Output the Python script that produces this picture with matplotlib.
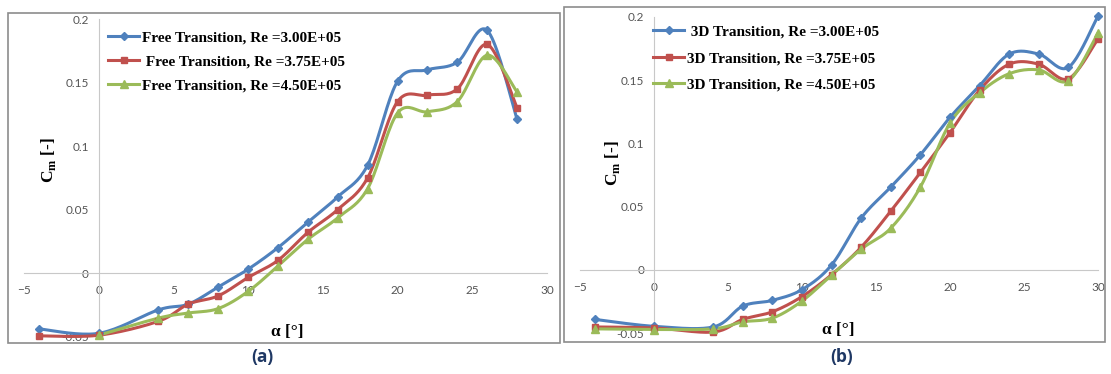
import numpy as np
import matplotlib
matplotlib.use('Agg')
import matplotlib.pyplot as plt
from matplotlib.patches import Rectangle

# ---- data ----
alpha_a = [-4, 0, 4, 6, 8, 10, 12, 14, 16, 18, 20, 22, 24, 26, 28]
free_300 = [-0.044, -0.0475, -0.029, -0.0245, -0.011, 0.003, 0.020, 0.040, 0.060, 0.085, 0.151, 0.160, 0.166, 0.191, 0.121]
free_375 = [-0.0495, -0.049, -0.038, -0.0245, -0.018, -0.0035, 0.010, 0.032, 0.050, 0.075, 0.135, 0.140, 0.145, 0.180, 0.130]
alpha_a_green = [0, 4, 6, 8, 10, 12, 14, 16, 18, 20, 22, 24, 26, 28]
free_450 = [-0.049, -0.0355, -0.0315, -0.028, -0.0145, 0.0055, 0.0265, 0.0435, 0.0665, 0.126, 0.127, 0.135, 0.1715, 0.1425]

alpha_b = [-4, 0, 4, 6, 8, 10, 12, 14, 16, 18, 20, 22, 24, 26, 28, 30]
td_300 = [-0.039, -0.0445, -0.045, -0.0285, -0.024, -0.0155, 0.004, 0.041, 0.0655, 0.091, 0.1205, 0.1455, 0.1705, 0.1705, 0.160, 0.2005]
td_375 = [-0.045, -0.0458, -0.049, -0.039, -0.033, -0.021, -0.0037, 0.018, 0.0465, 0.077, 0.1085, 0.142, 0.1625, 0.1625, 0.151, 0.1825]
td_450 = [-0.0465, -0.047, -0.0465, -0.041, -0.038, -0.0245, -0.004, 0.0165, 0.033, 0.0655, 0.116, 0.140, 0.155, 0.158, 0.1495, 0.187]

labels_a = ['Free Transition, Re =3.00E+05', ' Free Transition, Re =3.75E+05', 'Free Transition, Re =4.50E+05']
labels_b = [' 3D Transition, Re =3.00E+05', '3D Transition, Re =3.75E+05', '3D Transition, Re =4.50E+05']
xticks = [-5, 0, 5, 10, 15, 20, 25, 30]
yticks = [-0.05, 0, 0.05, 0.1, 0.15, 0.2]
ytick_labels = ['-0.05', '0', '0.05', '0.1', '0.15', '0.2']

colors = ['#4F81BD', '#C0504D', '#9BBB59']
markers = ['D', 's', '^']
msizes = [4.5, 5, 5.5]


def smooth(x, y, n=20):
    # Catmull-Rom curve through the points (like Excel's smoothed line)
    p = np.column_stack([x, y]).astype(float)
    p = np.vstack([p[0], p, p[-1]])
    out = []
    t = np.linspace(0, 1, n, endpoint=False)[:, None]
    for i in range(1, len(p) - 2):
        p0, p1, p2, p3 = p[i - 1], p[i], p[i + 1], p[i + 2]
        seg = 0.5 * ((2 * p1) + (-p0 + p2) * t + (2 * p0 - 5 * p1 + 4 * p2 - p3) * t ** 2
                     + (-p0 + 3 * p1 - 3 * p2 + p3) * t ** 3)
        out.append(seg)
    out.append(p[-2][None, :])
    out = np.vstack(out)
    return out[:, 0], out[:, 1]


fig = plt.figure(figsize=(11.11, 3.74), dpi=100)

# panel frames
fig.patches.append(Rectangle((8 / 1111, 1 - 343 / 374), 552 / 1111, 330 / 374, transform=fig.transFigure,
                             fill=False, edgecolor='#8c8c8c', linewidth=1.2))
fig.patches.append(Rectangle((563.5 / 1111, 1 - 341.7 / 374), 541 / 1111, 334.4 / 374, transform=fig.transFigure,
                             fill=False, edgecolor='#8c8c8c', linewidth=1.2))


def setup_axes(ax):
    ax.set_xlim(-5, 30)
    ax.set_ylim(-0.05, 0.2)
    for s in ['top', 'right']:
        ax.spines[s].set_visible(False)
    ax.spines['left'].set_position(('data', 0))
    ax.spines['bottom'].set_position(('data', 0))
    ax.spines['left'].set_color('#c8c8c8')
    ax.spines['bottom'].set_color('#c8c8c8')
    ax.spines['left'].set_linewidth(0.8)
    ax.spines['bottom'].set_linewidth(0.8)
    ax.set_xticks(xticks)
    ax.set_yticks(yticks)
    ax.set_yticklabels(ytick_labels)
    ax.tick_params(length=0, labelsize=8.5, labelcolor='#555555')
    ax.tick_params(axis='y', pad=7)
    ax.tick_params(axis='x', pad=9)
    for lb in ax.get_xticklabels() + ax.get_yticklabels():
        lb.set_family('Lato')
    ax.patch.set_alpha(0)


def draw(ax, xs, ys, labels):
    handles = []
    for x, y, c, m, ms, lab in zip(xs, ys, colors, markers, msizes, labels):
        sx, sy = smooth(x, y)
        ax.plot(sx, sy, color=c, lw=2.2, clip_on=False, zorder=3)
        ax.plot(x, y, ls='none', marker=m, ms=ms, color=c, clip_on=False, zorder=4)
        h, = ax.plot([], [], color=c, lw=2.2, marker=m, ms=ms, label=lab)
        handles.append(h)
    return handles


ax1 = fig.add_axes([24 / 1111, 1 - 336.5 / 374, 523 / 1111, 317.5 / 374])
setup_axes(ax1)
h1 = draw(ax1, [alpha_a, alpha_a, alpha_a_green], [free_300, free_375, free_450], labels_a)
ax1.legend(handles=h1, loc='upper left', bbox_to_anchor=(108 / 1111, 1 - 31 / 374),
           bbox_transform=fig.transFigure, frameon=False, handlelength=2.05, handletextpad=0.15,
           labelspacing=0.67, borderaxespad=0, borderpad=0,
           prop={'family': 'Liberation Serif', 'weight': 'bold', 'size': 11})

ax2 = fig.add_axes([580 / 1111, 1 - 333.3 / 374, 518 / 1111, 316.6 / 374])
setup_axes(ax2)
h2 = draw(ax2, [alpha_b] * 3, [td_300, td_375, td_450], labels_b)
ax2.legend(handles=h2, loc='upper left', bbox_to_anchor=(653 / 1111, 1 - 25 / 374),
           bbox_transform=fig.transFigure, frameon=False, handlelength=2.05, handletextpad=0.15,
           labelspacing=0.83, borderaxespad=0, borderpad=0,
           prop={'family': 'Liberation Serif', 'weight': 'bold', 'size': 11})

# axis titles
ylab = r'C$_\mathregular{m}$ [-]'
fig.text(48 / 1111, 1 - 160 / 374, ylab, rotation=90, ha='center', va='center',
         family='Liberation Serif', weight='bold', fontsize=12.5)
fig.text(612 / 1111, 1 - 163 / 374, ylab, rotation=90, ha='center', va='center',
         family='Liberation Serif', weight='bold', fontsize=12.5)
fig.text(287 / 1111, 1 - 332 / 374, 'α [°]', ha='center', va='center',
         family='Liberation Serif', weight='bold', fontsize=12.5)
fig.text(838 / 1111, 1 - 330 / 374, 'α [°]', ha='center', va='center',
         family='Liberation Serif', weight='bold', fontsize=12.5)

fig.text(262 / 1111, 1 - 357 / 374, '(a)', ha='center', va='center',
         family='Open Sans', weight='bold', fontsize=12.5, color='#1F3864')
fig.text(842 / 1111, 1 - 357 / 374, '(b)', ha='center', va='center',
         family='Open Sans', weight='bold', fontsize=12.5, color='#1F3864')

fig.savefig('out.png', dpi=100)
